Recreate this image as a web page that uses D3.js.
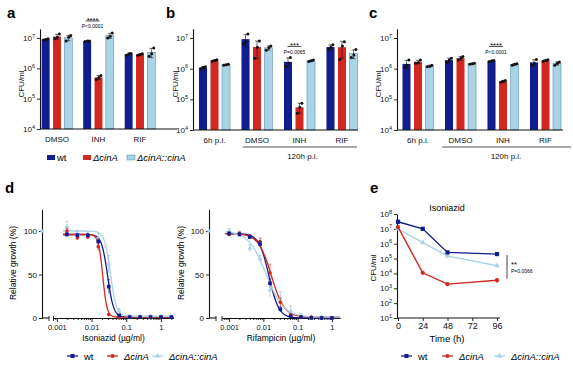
<!DOCTYPE html>
<html><head><meta charset="utf-8">
<script src="https://cdn.jsdelivr.net/npm/d3@7"></script>
<style>
body{margin:0;background:#fff;}
svg{display:block;font-family:"Liberation Sans",Arial,Helvetica,sans-serif;color:#111;}
</style></head><body>
<svg id="fig" width="573" height="371"></svg>
<script>
// ---------------- DATA ----------------
const strains = ["wt", "ΔcinA", "ΔcinA::cinA"];
// panel a (CFU/ml, replicates per group)
const aGroups = ["DMSO", "INH", "RIF"];
const aWt   = [[8.6e6, 9.0e6, 9.4e6], [7.6e6, 7.9e6, 8.0e6], [2.7e6, 3.0e6, 3.1e6]];
const aCinA = [[9.5e6, 1.05e7, 1.35e7], [4.3e5, 5.0e5, 5.8e5], [2.7e6, 2.85e6, 3.0e6]];
const aComp = [[8.0e6, 1.05e7, 1.2e7], [1.0e7, 1.15e7, 1.45e7], [2.5e6, 3.0e6, 4.7e6]];
// panel b
const bGroups = ["6h p.i.", "DMSO", "INH", "RIF"];
const bWt   = [[1.0e6, 1.1e6, 1.15e6], [6.5e6, 7.5e6, 1.35e7], [1.2e6, 1.5e6, 2.3e6], [4.2e6, 5.0e6, 6.0e6]];
const bCinA = [[1.75e6, 1.85e6, 1.95e6], [2.2e6, 5.0e6, 8.0e6], [3.5e4, 5.5e4, 7.5e4], [2.0e6, 5.5e6, 7.5e6]];
const bComp = [[1.3e6, 1.35e6, 1.4e6], [4.0e6, 4.8e6, 5.5e6], [1.7e6, 1.8e6, 1.9e6], [2.3e6, 2.8e6, 4.2e6]];
// panel c
const cGroups = ["6h p.i.", "DMSO", "INH", "RIF"];
const cWt   = [[1.1e6, 1.3e6, 1.9e6], [1.6e6, 1.9e6, 2.2e6], [1.7e6, 1.8e6, 1.85e6], [1.3e6, 1.5e6, 2.0e6]];
const cCinA = [[1.5e6, 1.6e6, 1.9e6], [1.9e6, 2.2e6, 2.5e6], [3.6e5, 3.9e5, 4.1e5], [1.75e6, 1.85e6, 1.95e6]];
const cComp = [[1.15e6, 1.2e6, 1.3e6], [1.4e6, 1.45e6, 1.5e6], [1.3e6, 1.4e6, 1.45e6], [1.3e6, 1.5e6, 1.65e6]];
const barYTicks = [1e4, 1e5, 1e6, 1e7];

// panel d (relative growth %)
const inhConc = [0.00195, 0.0039, 0.0078, 0.0156, 0.03125, 0.0625, 0.125, 0.25, 0.5, 1, 2];
const inhWt   = [96, 95, 95, 88, 36, 3, 1, 1, 1, 1, 1];
const inhCinA = [100, 92, 93, 82, 4, 1, 1, 1, 1, 1, 1];
const inhComp = [105, 97, 96, 92, 62, 8, 2, 2, 2, 2, 2];
const inhWtErr   = [2, 2, 2, 3, 8, 1, 0, 0, 0, 0, 0];
const inhCinAErr = [3, 2, 2, 5, 1, 0, 0, 0, 0, 0, 0];
const inhCompErr = [6, 3, 3, 5, 10, 3, 1, 1, 1, 1, 1];
const rifConc = [0.001, 0.002, 0.004, 0.008, 0.0156, 0.03125, 0.0625, 0.125, 0.25, 0.5, 1];
const rifWt   = [97, 96, 93, 85, 40, 10, 2, 1, 0, 0, 0];
const rifCinA = [96, 97, 94, 88, 52, 18, 3, 1, 1, 0, 0];
const rifComp = [100, 97, 80, 68, 32, 22, 8, 3, 1, 1, 0];
const rifWtErr   = [2, 2, 2, 3, 5, 3, 1, 0, 0, 0, 0];
const rifCinAErr = [2, 2, 2, 4, 10, 5, 2, 1, 0, 0, 0];
const rifCompErr = [3, 3, 4, 4, 8, 8, 6, 2, 1, 1, 0];
const untreated = [100, 100, 100];
// four-parameter fits [top, bottom, IC50, hill]
const inhFit = [[96, 1, 0.029, 5], [96, 1, 0.021, 7], [100, 2, 0.035, 5]];
const rifFit = [[97, 0, 0.0145, 3], [97, 1, 0.017, 2.3], [100, 1, 0.012, 1.7]];
const doseTicks = [0.001, 0.01, 0.1, 1];
const growthTicks = [0, 50, 100];

// panel e
const eTime = [0, 24, 48, 96];
const eWt   = [3.0e7, 1.0e7, 2.6e5, 2.0e5];
const eCinA = [1.3e7, 1.1e4, 1.9e3, 3.5e3];
const eComp = [1.0e7, 1.2e6, 1.5e5, 3.3e4];
const eWtErr   = [0.8e7, 0.3e7, 0.6e5, 0.3e5];
const eCinAErr = [0.3e7, 0.2e4, 0.3e3, 1.3e3];
const eCompErr = [0.2e7, 0.3e6, 0.5e5, 0.5e4];
const eXTicks = [0, 24, 48, 72, 96];
const eYTicks = [1e1, 1e2, 1e3, 1e4, 1e5, 1e6, 1e7, 1e8];

// ---------------- STYLE ----------------
const COL = ["#111c8e", "#d1281f", "#a9d4e7"];
const svg = d3.select("#fig");
const FONT = "8px";

function supTicks(sel) {
  sel.selectAll(".tick text").each(function (d) {
    const t = d3.select(this);
    t.text(null);
    t.append("tspan").text("10");
    t.append("tspan").attr("dy", "-3.5").attr("font-size", "5.5px").text(Math.round(Math.log10(d)));
  });
}
function styleAxis(a) {
  a.attr("color", "#111");
  a.selectAll("path.domain").attr("stroke", "#111").attr("stroke-width", 1.1);
  a.selectAll(".tick line").attr("stroke", "#111").attr("stroke-width", 0.9);
  a.selectAll(".tick text").attr("fill", "#111").attr("font-size", FONT);
}
function letter(txt, x, y) {
  svg.append("text").attr("x", x).attr("y", y).attr("font-size", "15px").attr("font-weight", "bold").text(txt);
}

// ---------------- BAR PANELS ----------------
function barPanel(cfg) {
  const g = svg.append("g");
  const x0 = d3.scaleBand().domain(cfg.groups).range(cfg.band);
  const x1 = d3.scaleBand().domain(strains).range([-cfg.half, cfg.half]).paddingInner(0.3).paddingOuter(0.15);
  const y = d3.scaleLog().domain([1e4, Math.pow(10, 7.3)]).range(cfg.yRange);
  const series = cfg.series;
  series.forEach((ser, si) => {
    ser.forEach((reps, gi) => {
      const m = d3.mean(reps), sd = d3.deviation(reps);
      const bx = x0(cfg.groups[gi]) + x0.bandwidth() / 2 + x1(strains[si]);
      const bw = x1.bandwidth();
      g.append("rect").attr("x", bx).attr("width", bw).attr("y", y(m)).attr("height", y(1e4) - y(m))
        .attr("fill", COL[si]).attr("stroke", si === 2 ? "#4d7f99" : "none").attr("stroke-width", 0.5);
      const cx = bx + bw / 2;
      const lo = Math.max(m - sd, 1e4), hi = m + sd;
      g.append("line").attr("x1", cx).attr("x2", cx).attr("y1", y(lo)).attr("y2", y(hi)).attr("stroke", "#111").attr("stroke-width", 0.6);
      [lo, hi].forEach(v => g.append("line").attr("x1", cx - 2).attr("x2", cx + 2).attr("y1", y(v)).attr("y2", y(v)).attr("stroke", "#111").attr("stroke-width", 0.6));
      const off = [-2.2, 0.4, 2.4];
      reps.forEach((v, k) => g.append("circle").attr("cx", cx + off[k]).attr("cy", y(v)).attr("r", 1.5).attr("fill", "#111"));
    });
  });
  const ya = g.append("g").attr("transform", `translate(${cfg.axisX},0)`)
    .call(d3.axisLeft(y).tickValues(barYTicks).tickSize(3).tickSizeOuter(0).tickPadding(2));
  styleAxis(ya); supTicks(ya);
  g.append("line").attr("x1", cfg.axisX).attr("x2", cfg.axisEnd).attr("y1", y(1e4)).attr("y2", y(1e4)).attr("stroke", "#111").attr("stroke-width", 1.1);
  const xa = g.append("g").attr("transform", `translate(0,${y(1e4)})`)
    .call(d3.axisBottom(x0).tickSize(0).tickPadding(7.5));
  xa.attr("color", "#111");
  xa.select("path.domain").remove();
  xa.selectAll(".tick text").attr("font-size", FONT).attr("fill", "#111");
  g.append("text").attr("transform", `translate(${cfg.titleX},${cfg.titleY}) rotate(-90)`).attr("text-anchor", "middle")
    .attr("font-size", FONT).attr("fill", "#111").text("CFU/ml");
  if (cfg.p120) {
    g.append("line").attr("x1", x0("DMSO") + cfg.p120[0]).attr("x2", cfg.p120[1]).attr("y1", y(1e4) + 17).attr("y2", y(1e4) + 17)
      .attr("stroke", "#555").attr("stroke-width", 1.2);
    g.append("text").attr("x", x0("INH") + x0.bandwidth() / 2 + 3).attr("y", y(1e4) + 29).attr("text-anchor", "middle")
      .attr("font-size", FONT).attr("fill", "#111").text("120h p.i.");
  }
  // significance
  const s = cfg.sig;
  const gx = x0(s.group) + x0.bandwidth() / 2 + s.dx;
  g.append("text").attr("x", gx).attr("y", s.y + 1.5).attr("text-anchor", "middle").attr("font-size", "7.5px").text(s.stars);
  g.append("line").attr("x1", gx - 7).attr("x2", gx + 7).attr("y1", s.y).attr("y2", s.y).attr("stroke", "#111").attr("stroke-width", 0.7);
  g.append("text").attr("x", gx).attr("y", s.y + 7).attr("text-anchor", "middle").attr("font-size", "5px").text(s.p);
  return {x0, x1, y};
}

letter("a", 7, 18); letter("b", 166, 18); letter("c", 369, 18);
barPanel({groups: aGroups, series: [aWt, aCinA, aComp], band: [36.25, 160.75], half: 17, yRange: [129, 129 - 3.3 * 30.33],
  axisX: 40, axisEnd: 177, titleX: 24, titleY: 84,
  sig: {group: "INH", dx: -6, y: 21, stars: "****", p: "P<0.0001"}});
barPanel({groups: bGroups, series: [bWt, bCinA, bComp], band: [193.25, 363.25], half: 17.25, yRange: [130, 130 - 3.3 * 30.67],
  axisX: 193, axisEnd: 358, titleX: 178, titleY: 84, p120: [7, 357],
  sig: {group: "INH", dx: -5, y: 46.5, stars: "***", p: "P=0.0065"}});
barPanel({groups: cGroups, series: [cWt, cCinA, cComp], band: [396.75, 566.75], half: 17.25, yRange: [130, 130 - 3.3 * 30.67],
  axisX: 397, axisEnd: 563, titleX: 381, titleY: 84, p120: [3, 571],
  sig: {group: "INH", dx: -7, y: 46.5, stars: "****", p: "P<0.0001"}});

// bar legend
(function () {
  const lx = [47, 83, 127];
  strains.forEach((s, i) => {
    svg.append("rect").attr("x", lx[i]).attr("y", 155).attr("width", 8).attr("height", 5).attr("fill", COL[i])
      .attr("stroke", i === 2 ? "#4d7f99" : "none").attr("stroke-width", 0.5);
    svg.append("text").attr("x", lx[i] + 10).attr("y", 161).attr("font-size", "9.5px")
      .attr("font-style", i === 0 ? "normal" : "italic").text(s);
  });
})();

// ---------------- DOSE RESPONSE ----------------
function marker(g, i, x, y, size) {
  if (i === 0) g.append("rect").attr("x", x - size / 2).attr("y", y - size / 2).attr("width", size).attr("height", size).attr("fill", COL[0]);
  else if (i === 1) g.append("circle").attr("cx", x).attr("cy", y).attr("r", size / 2).attr("fill", COL[1]);
  else g.append("path").attr("d", d3.symbol(d3.symbolTriangle, size * size * 0.8)()).attr("transform", `translate(${x},${y})`).attr("fill", COL[2]);
}
function hill(p, c) { return p[1] + (p[0] - p[1]) / (1 + Math.pow(c / p[2], p[3])); }

function dosePanel(cfg) {
  const g = svg.append("g");
  const x = d3.scaleLog().domain(cfg.xDomain).range(cfg.xRange);
  const y = d3.scaleLinear().domain([0, 125]).range([318, 318 - 125 * 0.87]);
  const ya = g.append("g").attr("transform", `translate(${cfg.axisX},0)`)
    .call(d3.axisLeft(y).tickValues(growthTicks).tickSize(3).tickSizeOuter(0).tickPadding(2));
  styleAxis(ya);
  g.append("line").attr("x1", cfg.axisX).attr("x2", cfg.axisX + 7).attr("y1", 318).attr("y2", 318).attr("stroke", "#111").attr("stroke-width", 1.1);
  g.append("line").attr("x1", cfg.axisX + 7).attr("x2", cfg.axisX + 7).attr("y1", 316).attr("y2", 321).attr("stroke", "#111").attr("stroke-width", 0.9);
  const minors = [];
  for (let k = -4; k <= 0; k++) for (let m = 2; m <= 9; m++) { const v = m * Math.pow(10, k); if (v > cfg.xDomain[0] && v < cfg.xDomain[1]) minors.push(v); }
  const xm = g.append("g").attr("transform", "translate(0,318)").call(d3.axisBottom(x).tickValues(minors).tickSize(2).tickSizeOuter(0).tickFormat(""));
  styleAxis(xm);
  const xa = g.append("g").attr("transform", "translate(0,318)").call(d3.axisBottom(x).tickValues(doseTicks).tickSize(4).tickSizeOuter(0).tickPadding(3).tickFormat(d3.format("~g")));
  styleAxis(xa);
  xa.selectAll(".tick text").attr("font-size", "7.5px");
  g.append("line").attr("x1", cfg.xRange[0]).attr("x2", cfg.xRange[0]).attr("y1", 316).attr("y2", 321).attr("stroke", "#111").attr("stroke-width", 0.9);
  g.append("text").attr("x", (cfg.xRange[0] + cfg.xRange[1]) / 2).attr("y", 341).attr("text-anchor", "middle").attr("font-size", "8.5px").text(cfg.xlabel);
  g.append("text").attr("transform", `translate(${cfg.titleX},263) rotate(-90)`).attr("text-anchor", "middle").attr("font-size", "8.5px").text("Relative growth (%)");
  cfg.fits.forEach((p, i) => {
    const xs = d3.range(0, 201).map(k => Math.exp(Math.log(cfg.conc[0] / 1.3) + k / 200 * (Math.log(cfg.xDomain[1]) - Math.log(cfg.conc[0] / 1.3))));
    g.append("path").attr("d", d3.line().x(c => x(c)).y(c => y(hill(p, c)))(xs)).attr("fill", "none").attr("stroke", COL[i]).attr("stroke-width", 1.3);
  });
  [2, 1, 0].forEach(i => {
    cfg.vals[i].forEach((v, k) => {
      const cx = x(cfg.conc[k]), e = cfg.errs[i][k];
      if (e > 0) {
        g.append("line").attr("x1", cx).attr("x2", cx).attr("y1", y(v - e)).attr("y2", y(v + e)).attr("stroke", i === 2 ? "#8fb8c8" : COL[i]).attr("stroke-width", 0.6);
        g.append("line").attr("x1", cx - 1.5).attr("x2", cx + 1.5).attr("y1", y(v + e)).attr("y2", y(v + e)).attr("stroke", i === 2 ? "#8fb8c8" : COL[i]).attr("stroke-width", 0.6);
      }
      marker(g, i, cx, y(v), 3.6);
    });
  });
  untreated.forEach((v, i) => { if (i === 2) g.append("circle").attr("cx", cfg.axisX).attr("cy", y(v)).attr("r", 1.8).attr("fill", COL[2]); });
}
letter("d", 5, 193); letter("e", 370, 193);
dosePanel({axisX: 42, xDomain: [0.0008, 2.3], xRange: [53.5, 173.5], conc: inhConc, vals: [inhWt, inhCinA, inhComp],
  errs: [inhWtErr, inhCinAErr, inhCompErr], fits: inhFit, xlabel: "Isoniazid (µg/ml)", titleX: 16});
dosePanel({axisX: 209, xDomain: [0.00062, 1.72], xRange: [222, 340], conc: rifConc, vals: [rifWt, rifCinA, rifComp],
  errs: [rifWtErr, rifCinAErr, rifCompErr], fits: rifFit, xlabel: "Rifampicin (µg/ml)", titleX: 184});

function lineLegend(xs, y) {
  strains.forEach((s, i) => {
    svg.append("line").attr("x1", xs[i]).attr("x2", xs[i] + 11).attr("y1", y).attr("y2", y).attr("stroke", COL[i]).attr("stroke-width", 1.3);
    marker(svg, i, xs[i] + 5.5, y, 4);
    svg.append("text").attr("x", xs[i] + 17).attr("y", y + 3.5).attr("font-size", "9.5px")
      .attr("font-style", i === 0 ? "normal" : "italic").text(s);
  });
}
lineLegend([67, 107, 152], 356);

// ---------------- TIME KILL (e) ----------------
(function () {
  const g = svg.append("g");
  const x = d3.scaleLinear().domain([0, 96]).range([398, 497]);
  const y = d3.scaleLog().domain([10, 1e8]).range([318, 214]);
  const ya = g.append("g").attr("transform", "translate(397,0)").call(d3.axisLeft(y).tickValues(eYTicks).tickSize(3).tickSizeOuter(0).tickPadding(2));
  styleAxis(ya); supTicks(ya);
  const xa = g.append("g").attr("transform", "translate(0,318)").call(d3.axisBottom(x).tickValues(eXTicks).tickSize(3).tickSizeOuter(0).tickPadding(2));
  styleAxis(xa);
  xa.select("path.domain").attr("d", "M397,0H500");
  xa.selectAll(".tick text").attr("font-size", "9px");
  g.append("text").attr("x", 447).attr("y", 342).attr("text-anchor", "middle").attr("font-size", "9.5px").text("Time (h)");
  g.append("text").attr("x", 447).attr("y", 211).attr("text-anchor", "middle").attr("font-size", "9px").text("Isoniazid");
  g.append("text").attr("transform", "translate(376,268) rotate(-90)").attr("text-anchor", "middle").attr("font-size", FONT).text("CFU/ml");
  const vals = [eWt, eCinA, eComp], errs = [eWtErr, eCinAErr, eCompErr];
  [2, 1, 0].forEach(i => {
    g.append("path").attr("d", d3.line().x((v, k) => x(eTime[k])).y(v => y(v))(vals[i])).attr("fill", "none").attr("stroke", COL[i]).attr("stroke-width", 1.4);
    vals[i].forEach((v, k) => {
      const cx = x(eTime[k]);
      g.append("line").attr("x1", cx).attr("x2", cx).attr("y1", y(v - errs[i][k])).attr("y2", y(v + errs[i][k])).attr("stroke", COL[i]).attr("stroke-width", 0.7);
      marker(g, i, cx, y(v), 4.2);
    });
  });
  g.append("line").attr("x1", 507).attr("x2", 507).attr("y1", y(eWt[3]) + 1).attr("y2", y(eCinA[3]) - 1.5).attr("stroke", "#111").attr("stroke-width", 0.8);
  g.append("text").attr("x", 511).attr("y", 267).attr("font-size", "7.5px").text("**");
  g.append("text").attr("x", 511).attr("y", 273).attr("font-size", "5px").text("P=0.0066");
})();
lineLegend([401, 442, 494], 356);
</script>
</body></html>
